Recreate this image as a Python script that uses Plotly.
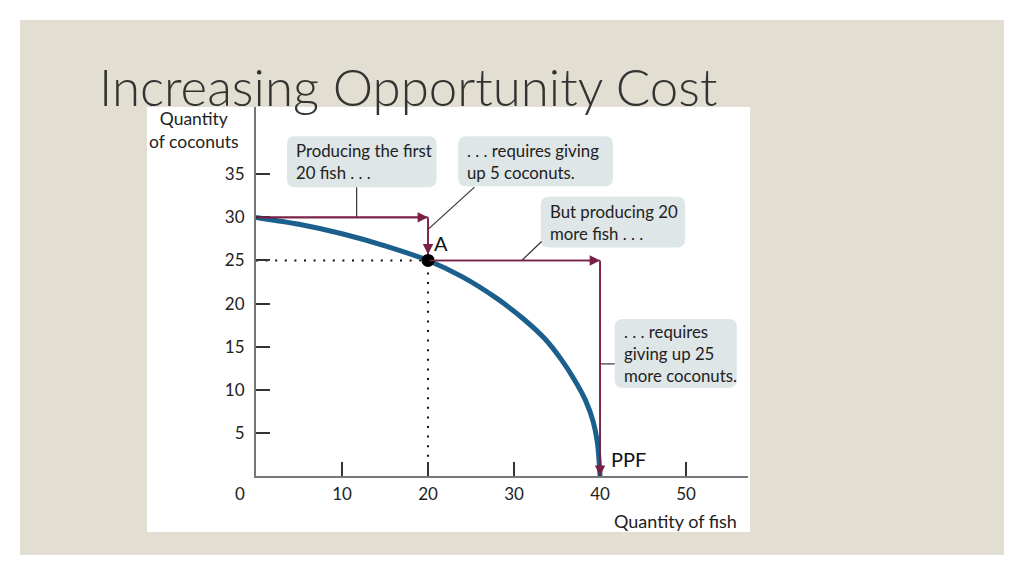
import plotly.graph_objects as go

# ---- data ----
fish = [0, 5, 10, 15, 20, 24, 28, 31, 33.5, 35.5, 37, 38.3, 39.2, 39.7, 40]
coconuts = [30, 29.2, 28.1, 26.7, 25, 23.1, 20.6, 18.3, 16.0, 13.5, 11.2, 8.8, 6.3, 3.8, 0]
point_a = (20, 25)
x_ticks = [10, 20, 30, 40, 50]
y_ticks = [5, 10, 15, 20, 25, 30, 35]
# arrows: (x_from, y_from, x_to, y_to)
arrows = [(0, 30, 20, 30), (20, 30, 20, 25), (20, 25, 40, 25), (40, 25, 40, 0)]
callouts = [
    ("Producing the first<br>20 fish . . .", 3.6, 39.4, 21.0, 33.5),
    (". . . requires giving<br>up 5 coconuts.", 23.5, 39.4, 41.5, 33.6),
    ("But producing 20<br>more fish . . .", 33.1, 32.4, 49.9, 26.5),
    (". . . requires<br>giving up 25<br>more coconuts.", 41.7, 18.2, 55.9, 10.2),
]
connectors = [(11.7, 33.5, 11.7, 30), (25.4, 33.5, 20, 28.6),
              (33.2, 27.2, 30.9, 25), (41.7, 13, 40, 13)]

# ---- layout geometry (page pixels) ----
W, H = 1024, 576
OFF = 8  # page body margin
L, R, T, B = 256, 748, 107, 476
XR = [0, 57.2]
YR = [0, 42.8]


def px(x):
    return (x - L) / (R - L)


def py(y):
    return (B - y) / (B - T)


MAROON = "#7a1f45"
BLUE = "#1b5f8c"
FONT = "Lato"

fig = go.Figure()

# dotted guides
fig.add_trace(go.Scatter(x=[0, point_a[0]], y=[point_a[1], point_a[1]], mode="lines",
                         line=dict(color="#111", width=2, dash="2px,7.6px"),
                         hoverinfo="skip", showlegend=False))
fig.add_trace(go.Scatter(x=[point_a[0], point_a[0]], y=[0, point_a[1]], mode="lines",
                         line=dict(color="#111", width=2, dash="2px,7.6px"),
                         hoverinfo="skip", showlegend=False))

# PPF curve
fig.add_trace(go.Scatter(x=fish, y=coconuts, mode="lines",
                         line=dict(color=BLUE, width=5, shape="spline", smoothing=0.8),
                         showlegend=False))

# arrows as lines
for (x0, y0, x1, y1) in arrows:
    fig.add_trace(go.Scatter(x=[x0, x1], y=[y0, y1], mode="lines",
                             line=dict(color=MAROON, width=1.6),
                             hoverinfo="skip", showlegend=False))

# point A
fig.add_trace(go.Scatter(x=[point_a[0]], y=[point_a[1]], mode="markers",
                         marker=dict(color="black", size=13), showlegend=False))

shapes = []
# slide background and white panel
shapes.append(dict(type="rect", xref="paper", yref="paper", layer="below",
                   x0=px(20), x1=px(1004), y0=py(555), y1=py(20),
                   fillcolor="#e2ded2", line=dict(width=0)))
shapes.append(dict(type="rect", xref="paper", yref="paper", layer="below",
                   x0=px(147), x1=px(750), y0=py(532), y1=py(107),
                   fillcolor="white", line=dict(width=0)))

annotations = []
r = 0.95
for (txt, x0, y0, x1, y1) in callouts:
    path = (f"M {x0 + r},{y0} L {x1 - r},{y0} Q {x1},{y0} {x1},{y0 - r} "
            f"L {x1},{y1 + r} Q {x1},{y1} {x1 - r},{y1} L {x0 + r},{y1} "
            f"Q {x0},{y1} {x0},{y1 + r} L {x0},{y0 - r} Q {x0},{y0} {x0 + r},{y0} Z")
    shapes.append(dict(type="path", path=path, xref="x", yref="y", layer="below",
                       fillcolor="#dfe6e7", line=dict(width=0)))
    annotations.append(dict(x=x0 + 0.85, y=(y0 + y1) / 2, xref="x", yref="y",
                            text=txt, showarrow=False, xanchor="left", yanchor="middle",
                            align="left", font=dict(family=FONT, size=16.8, color="#222")))

for (x0, y0, x1, y1) in connectors:
    shapes.append(dict(type="line", xref="x", yref="y", x0=x0, y0=y0, x1=x1, y1=y1,
                       line=dict(color="#333", width=1.2)))

# arrowheads
for (x0, y0, x1, y1) in arrows:
    annotations.append(dict(x=x1, y=y1, ax=x0, ay=y0, xref="x", yref="y",
                            axref="x", ayref="y", text="", showarrow=True,
                            arrowhead=2, arrowsize=1.3, arrowwidth=1.6,
                            arrowcolor=MAROON,
                            standoff=6 if (x1, y1) == point_a else 0))

annotations += [
    dict(x=px(97), y=py(86), xref="paper", yref="paper", text="Increasing Opportunity Cost",
         showarrow=False, xanchor="left", yanchor="middle",
         font=dict(family=FONT, size=51, color="#333", weight=300)),
    dict(x=px(194), y=py(130), xref="paper", yref="paper", text="Quantity<br>of coconuts",
         showarrow=False, xanchor="center", yanchor="middle",
         font=dict(family=FONT, size=17.5, color="#222")),
    dict(x=px(739), y=py(521), xref="paper", yref="paper", text="Quantity of fish",
         showarrow=False, xanchor="right", yanchor="middle",
         font=dict(family=FONT, size=18, color="#222")),
    dict(x=0, y=0, xref="x", yref="y", text="0", showarrow=False,
         xshift=-16, yshift=-17, font=dict(family=FONT, size=17, color="#222")),
    dict(x=point_a[0], y=point_a[1], xref="x", yref="y", text="A", showarrow=False,
         xanchor="left", yanchor="bottom", xshift=4, yshift=3,
         font=dict(family=FONT, size=20, color="#111")),
    dict(x=40, y=0, xref="x", yref="y", text="PPF", showarrow=False,
         xanchor="left", yanchor="bottom", xshift=9, yshift=3,
         font=dict(family=FONT, size=20, color="#111")),
]

fig.update_layout(
    width=W, height=H,
    margin=dict(l=L - OFF, r=W - (R - OFF), t=T - OFF, b=H - (B - OFF), autoexpand=False),
    paper_bgcolor="white", plot_bgcolor="rgba(0,0,0,0)",
    shapes=shapes, annotations=annotations, showlegend=False,
    xaxis=dict(range=XR, showgrid=False, zeroline=False, showline=True,
               linecolor="#777", linewidth=2, ticks="inside", ticklen=14,
               tickwidth=1.5, tickcolor="#333", tickvals=x_ticks,
               tickfont=dict(family=FONT, size=17, color="#222"),
               ticklabelstandoff=2, fixedrange=True),
    yaxis=dict(range=YR, showgrid=False, zeroline=False, showline=True,
               linecolor="#777", linewidth=2, ticks="inside", ticklen=14,
               tickwidth=1.5, tickcolor="#333", tickvals=y_ticks,
               tickfont=dict(family=FONT, size=17, color="#222"),
               ticklabelstandoff=6, fixedrange=True),
)

fig.write_html("out.html")
